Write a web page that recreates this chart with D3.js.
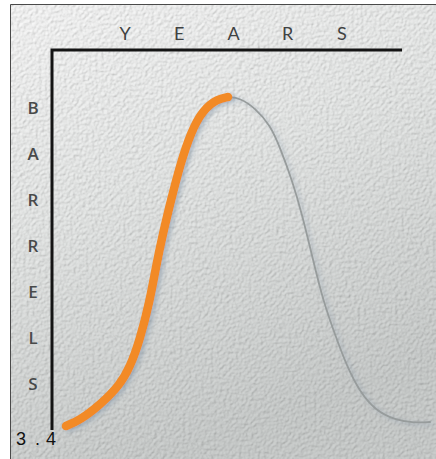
<!DOCTYPE html>
<html>
<head>
<meta charset="utf-8">
<script src="https://cdn.jsdelivr.net/npm/d3@7"></script>
<style>
  html, body { margin: 0; padding: 0; background: #fff; }
  svg { display: block; }
</style>
</head>
<body>
<div id="chart"></div>
<script>
// axis captions, one letter per slot
const xLetters = ['Y', 'E', 'A', 'R', 'S'];
const yLetters = ['B', 'A', 'R', 'R', 'E', 'L', 'S'];
const figLabel = '3.4';

// production curve (years 0-100 on the axis, barrels 0-100 at peak)
const producedYears = [4, 8, 13.7, 19.4, 22.3, 25.1, 28, 29.7, 31.7, 34, 36.6, 39.7, 43.1, 47.2, 50.3];
const producedBarrels = [1.2, 3, 7.5, 13.5, 18.9, 27, 39, 49, 59, 69, 79.6, 89.5, 96.1, 99.4, 100];
const futureYears = [50.3, 53.7, 58, 62.3, 65.1, 68.6, 71.4, 74.6, 77.4, 80.9, 84.3, 88, 92.3, 98, 103.7, 108];
const futureBarrels = [100, 99.7, 96.7, 91.6, 85, 75, 65, 51, 39, 28.5, 19, 11.4, 6, 3, 2.1, 2.4];

const width = 436, height = 459;

const svg = d3.select('#chart')
  .append('svg')
  .attr('width', width)
  .attr('height', height);

const defs = svg.append('defs');

const grad = defs.append('linearGradient')
  .attr('id', 'paper')
  .attr('x1', 0).attr('y1', 0).attr('x2', 0.35).attr('y2', 1);
grad.append('stop').attr('offset', '0%').attr('stop-color', '#fbfbfb');
grad.append('stop').attr('offset', '45%').attr('stop-color', '#eaeceb');
grad.append('stop').attr('offset', '100%').attr('stop-color', '#ced1d0');

// fine embossed paper grain
const tex = defs.append('filter').attr('id', 'grain')
  .attr('x', 0).attr('y', 0).attr('width', 1).attr('height', 1);
tex.append('feTurbulence')
  .attr('type', 'fractalNoise')
  .attr('baseFrequency', 0.32)
  .attr('numOctaves', 2)
  .attr('seed', 5)
  .attr('result', 'noise');
const light = tex.append('feDiffuseLighting')
  .attr('in', 'noise')
  .attr('surfaceScale', 0.9)
  .attr('lighting-color', '#ffffff')
  .attr('result', 'lit');
light.append('feDistantLight').attr('azimuth', 225).attr('elevation', 62);
tex.append('feBlend').attr('in', 'lit').attr('in2', 'SourceGraphic').attr('mode', 'multiply');

const shadow = defs.append('filter').attr('id', 'shadow')
  .attr('x', '-20%').attr('y', '-20%').attr('width', '140%').attr('height', '140%');
shadow.append('feDropShadow')
  .attr('dx', 3).attr('dy', 2)
  .attr('stdDeviation', 2)
  .attr('flood-color', '#7f93a6')
  .attr('flood-opacity', 0.5);

svg.append('rect')
  .attr('x', 10).attr('y', 4)
  .attr('width', width - 10).attr('height', height - 4)
  .attr('fill', 'url(#paper)')
  .attr('filter', 'url(#grain)');

svg.append('path')
  .attr('d', `M10.5,${height}V4.5H${width}`)
  .attr('fill', 'none')
  .attr('stroke', '#4a4a4a')
  .attr('stroke-width', 1);

const x = d3.scaleLinear().domain([0, 100]).range([52, 402]);
const y = d3.scaleLinear().domain([0, 100]).range([430, 97]);

// axis frame: top and left lines
svg.append('path')
  .attr('d', `M${x(0)},${y(0)}V${50}H${x(100)}`)
  .attr('fill', 'none')
  .attr('stroke', '#141414')
  .attr('stroke-width', 3);

const xl = d3.scalePoint().domain(d3.range(xLetters.length)).range([125, 342]);
svg.append('g').selectAll('text')
  .data(xLetters)
  .enter()
  .append('text')
  .attr('x', (d, i) => xl(i))
  .attr('y', 40)
  .attr('text-anchor', 'middle')
  .attr('font-family', 'Lato, "Open Sans", sans-serif')
  .attr('font-size', 18)
  .attr('fill', '#3f4242')
  .text(d => d);

const yl = d3.scalePoint().domain(d3.range(yLetters.length)).range([114, 390]);
svg.append('g').selectAll('text')
  .data(yLetters)
  .enter()
  .append('text')
  .attr('x', 33)
  .attr('y', (d, i) => yl(i))
  .attr('text-anchor', 'middle')
  .attr('font-family', '"Open Sans", Lato, sans-serif')
  .attr('font-weight', 600)
  .attr('font-size', 17)
  .attr('fill', '#484a4a')
  .text(d => d);

const line = d3.line()
  .x(d => x(d[0]))
  .y(d => y(d[1]))
  .curve(d3.curveBasis);

svg.append('path')
  .datum(d3.zip(futureYears, futureBarrels))
  .attr('d', line)
  .attr('fill', 'none')
  .attr('stroke', '#979c9c')
  .attr('stroke-width', 1.8)
  .attr('stroke-linecap', 'round')
  .attr('filter', 'url(#shadow)');

svg.append('path')
  .datum(d3.zip(producedYears, producedBarrels))
  .attr('d', line)
  .attr('fill', 'none')
  .attr('stroke', '#f28a26')
  .attr('stroke-width', 8.5)
  .attr('stroke-linecap', 'round')
  .attr('filter', 'url(#shadow)');

svg.append('text')
  .attr('x', '16 35 46')
  .attr('y', 445)
  .attr('font-family', '"Liberation Sans", Arial, sans-serif')
  .attr('font-size', 18)
  .attr('fill', '#111')
  .text(figLabel);
</script>
</body>
</html>
